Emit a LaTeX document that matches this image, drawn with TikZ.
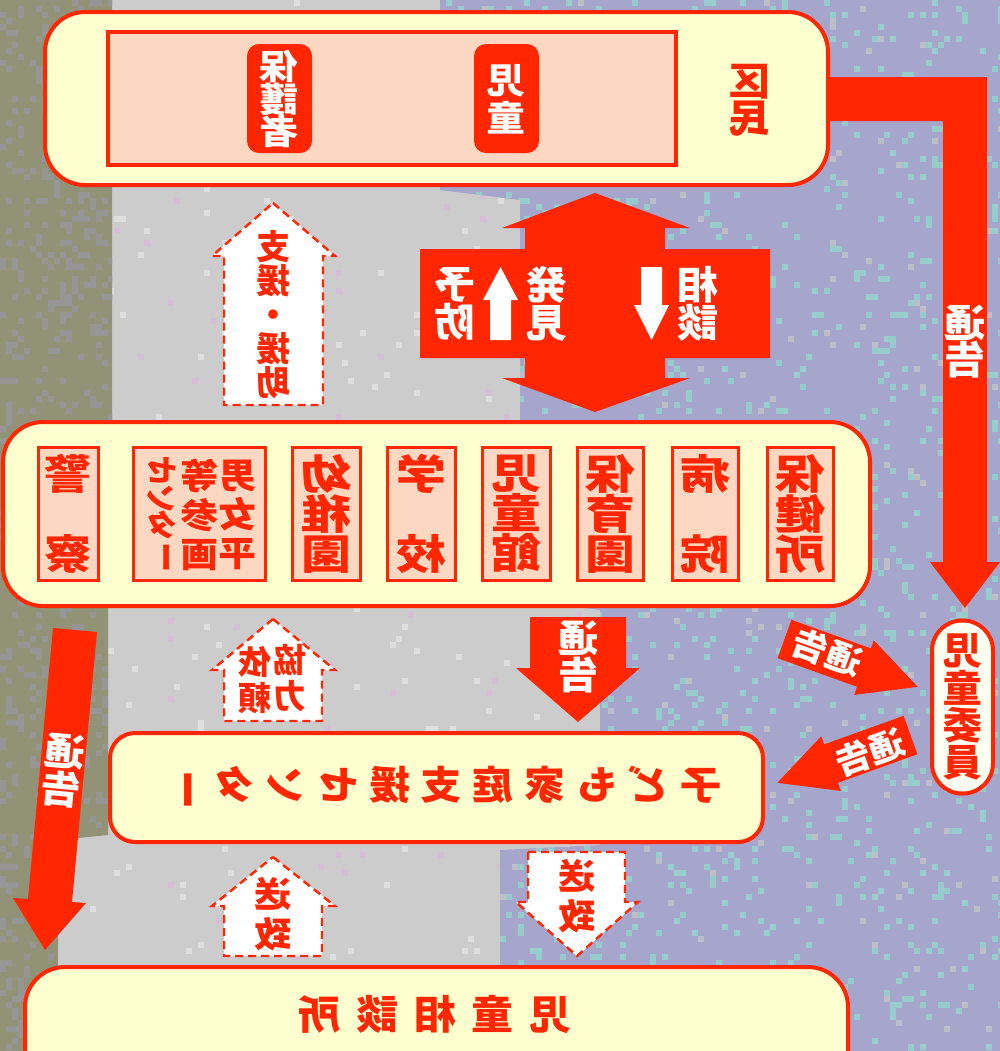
\documentclass[tikz,border=0pt]{standalone}
\usepackage{fontspec}
\usepackage{graphicx}
\newfontfamily\jp{Noto Sans CJK JP}
\definecolor{rd}{RGB}{255,38,0}
\definecolor{cream}{RGB}{255,255,208}
\definecolor{pinkbox}{RGB}{252,216,194}
\definecolor{lav}{RGB}{166,166,204}
\definecolor{lavdot}{RGB}{150,204,204}
\definecolor{lavdotb}{RGB}{190,190,200}
\definecolor{graybg}{RGB}{204,204,204}
\definecolor{graydot}{RGB}{222,222,222}
\definecolor{pinkdot}{RGB}{214,190,214}
\definecolor{olive}{RGB}{146,146,118}
\definecolor{olivedot}{RGB}{150,150,150}
\definecolor{iinfill}{RGB}{255,255,242}
% vertical (mirrored) text: [xscale]{font size}{pitch}{rows}
\newcommand\vt[4][1.12]{\scalebox{-#1}[1]{\fontsize{#2pt}{#3pt}\selectfont\parbox{1.4em}{\centering\lineskiplimit=-100pt\relax #4\par}}}
% horizontal (mirrored) text
\newcommand\hz[3][1.12]{\scalebox{-#1}[1]{\fontsize{#2pt}{#2pt}\selectfont #3}}
\newcommand\vbar{\makebox[1em]{\rotatebox[origin=c]{90}{ー}}}
\newcommand\gpa{\hspace{5.2pt}}
\newcommand\gpb{\hspace{7.4pt}}
\tikzset{
  bigbox/.style={draw=rd, line width=2pt, fill=cream, rounded corners=20pt, inner sep=0pt},
  panel/.style={draw=rd, line width=2pt, fill=pinkbox, inner sep=0pt},
  tagbox/.style={fill=rd, rounded corners=6pt, inner sep=0pt, minimum width=32.5pt, minimum height=54.5pt},
  orgbox/.style={draw=rd, line width=1.5pt, fill=pinkbox, inner sep=0pt, minimum height=66.5pt},
  redarrow/.style={fill=rd},
  dasharrow/.style={fill=white, draw=rd, line width=1.2pt, dash pattern=on 4pt off 2.5pt},
  rtext/.style={text=rd, font=\jp\bfseries, inner sep=0pt},
  wtext/.style={text=white, font=\jp\bfseries, inner sep=0pt},
}
\begin{document}
\begin{tikzpicture}[x=0.5pt,y=-0.5pt]
\useasboundingbox (0,0) rectangle (1000,1051);
% ---------- background ----------
\fill[graybg] (0,0) rectangle (1000,1051);
\pgfmathsetseed{12}
\begin{scope}
  \clip (0,0) rectangle (1000,1051);
  \foreach \i in {1,...,500}{\pgfmathsetmacro\rx{6*int(rnd*167)}\pgfmathsetmacro\ry{6*int(rnd*176)}\fill[graydot] (\rx,\ry) rectangle +(6,6);}
  \foreach \i in {1,...,250}{\pgfmathsetmacro\rx{6*int(rnd*167)}\pgfmathsetmacro\ry{6*int(rnd*176)}\fill[pinkdot] (\rx,\ry) rectangle +(6,6);}
\end{scope}
\fill[olive] (0,0) -- (112,0) -- (112,430) -- (108,620) -- (108,835) -- (58,840) -- (58,1051) -- (0,1051) -- cycle;
\begin{scope}
  \clip (0,0) -- (112,0) -- (112,430) -- (108,620) -- (108,835) -- (58,840) -- (58,1051) -- (0,1051) -- cycle;
  \foreach \i in {1,...,700}{\pgfmathsetmacro\rx{6*int(rnd*19)}\pgfmathsetmacro\ry{6*int(rnd*176)}\fill[olivedot] (\rx,\ry) rectangle +(6,6);}
\end{scope}
\fill[lav] (440,0) -- (1000,0) -- (1000,1051) -- (500,1051) -- (500,850) -- (600,845) -- (600,610) -- (520,600) -- (520,200) -- (440,190) -- cycle;
\begin{scope}
  \clip (440,0) -- (1000,0) -- (1000,1051) -- (500,1051) -- (500,850) -- (600,845) -- (600,610) -- (520,600) -- (520,200) -- (440,190) -- cycle;
  \foreach \i in {1,...,1300}{\pgfmathsetmacro\rx{440+6*int(rnd*94)}\pgfmathsetmacro\ry{6*int(rnd*176)}\fill[lavdot] (\rx,\ry) rectangle +(6,6);}
  \foreach \i in {1,...,300}{\pgfmathsetmacro\rx{440+6*int(rnd*94)}\pgfmathsetmacro\ry{6*int(rnd*176)}\fill[lavdotb] (\rx,\ry) rectangle +(6,6);}
\end{scope}

% ---------- red block arrows ----------
% 区民 -> 児童委員 (通告)
\fill[redarrow] (826,77) -- (987,77) -- (987,562) -- (1000,562) -- (965,608) -- (930,562) -- (943,562) -- (943,121) -- (826,121) -- cycle;
\node[wtext] (t-tsuukoku1) at (965,342) {\vt[1.06]{19.4}{18.5}{通\\告}};

% double arrow (相談 / 発見・予防)
\fill[redarrow] (595,193) -- (690,228) -- (665,228) -- (665,249) -- (770,249) -- (770,358) -- (665,358) -- (665,378) -- (690,378) -- (595,412) -- (502,378) -- (525,378) -- (525,358) -- (420,358) -- (420,249) -- (525,249) -- (525,228) -- (502,228) -- cycle;
\fill[white] (500.5,267) -- (518,300) -- (511,300) -- (511,340) -- (490,340) -- (490,300) -- (483,300) -- cycle;
\fill[white] (651.5,340) -- (669,305) -- (662,305) -- (662,267) -- (641,267) -- (641,305) -- (634,305) -- cycle;
\node[wtext] (t-yobou) at (455,304) {\vt[1.06]{19.4}{19}{予\\防}};
\node[wtext] (t-hakken) at (547,304) {\vt[1.06]{19.4}{19}{発\\見}};
\node[wtext] (t-soudan) at (698,304) {\vt[1.06]{19.4}{19}{相\\談}};

% 支援・援助 (dashed up)
\draw[dasharrow] (273,203) -- (335,256) -- (323,256) -- (323,405) -- (224,405) -- (224,256) -- (212,256) -- cycle;
\node[rtext] (t-shien) at (273,315) {\vt[1.0]{17}{17}{支\\援\\・\\援\\助}};

% 通告 (middle, down)
\fill[redarrow] (530,617) -- (626,617) -- (626,668) -- (640,668) -- (578,722) -- (516,668) -- (530,668) -- cycle;
\node[wtext] (t-tsuukoku2) at (578,657) {\vt[1.06]{19}{18.5}{通\\告}};

% 協力依頼 (dashed up)
\draw[dasharrow] (273,619) -- (335,670) -- (322,670) -- (322,721) -- (224,721) -- (224,670) -- (212,670) -- cycle;
\node[rtext] (t-kyouryoku) at (290,678) {\vt[1.0]{16.5}{18}{協\\力}};
\node[rtext] (t-irai) at (255,680) {\vt[1.0]{16.5}{18}{依\\頼}};

% left long 通告
\fill[redarrow] (53,628) -- (97,632) -- (72,902) -- (86,903) -- (45,950) -- (13,898) -- (28,899) -- cycle;
\node[wtext, rotate=-5.4] (t-tsuukoku3) at (63,771) {\vt[1.06]{19}{19}{通\\告}};

% 通告 -> 児童委員
\fill[redarrow] (791.4,619.8) -- (870.9,648.4) -- (873.8,640.3) -- (917.7,686.8) -- (854.2,694.9) -- (857.1,686.8) -- (777.6,658.2) -- cycle;
\node[wtext, rotate=-19.8] (t-tsuukoku4) at (827,652) {\hz[1.05]{17}{通告}};
% 児童委員 -> 子ども家庭支援センター
\fill[redarrow] (903.6,715.8) -- (824.1,744.4) -- (821.2,736.3) -- (777.3,782.8) -- (840.8,790.9) -- (837.9,782.8) -- (917.4,754.2) -- cycle;
\node[wtext, rotate=19.8] (t-tsuukoku5) at (870,752) {\hz[1.05]{17}{通告}};

% 送致 arrows (dashed)
\draw[dasharrow] (528,852) -- (625,852) -- (625,902) -- (638,902) -- (577,956) -- (516,902) -- (528,902) -- cycle;
\node[rtext] (t-souchi1) at (577,896) {\vt[1.05]{17.6}{20}{送\\致}};
\draw[dasharrow] (273,857) -- (335,906) -- (322,906) -- (322,956) -- (224,956) -- (224,906) -- (212,906) -- cycle;
\node[rtext] (t-souchi2) at (273,914) {\vt[1.05]{17.6}{20}{送\\致}};

% ---------- boxes ----------
% 区民
\node[bigbox, minimum width=391.5pt, minimum height=86.5pt] (kumin) at (436.5,98.5) {};
\node[panel, minimum width=284pt, minimum height=66.5pt] (kpanel) at (392,98.5) {};
\node[tagbox] (hogosha) at (279.5,98.5) {};
\node[wtext] (t-hogosha) at (279.5,99) {\vt[1.13]{17.2}{16.25}{保\\護\\者}};
\node[tagbox] (jido) at (506.5,98.5) {};
\node[wtext] (t-jido) at (506.5,99) {\vt[1.1]{17.6}{19}{児\\童}};
\node[rtext] (t-kumin) at (750,100) {\vt[1.06]{19.4}{18.5}{区\\民}};

% 関係機関
\node[bigbox, minimum width=433.5pt, minimum height=92pt] (kikan) at (436.5,514) {};
\node[orgbox, minimum width=30pt] (o1) at (68,513.5) {};
\node[rtext] at (o1.center) {\vt[1.15]{20.5}{40}{警\\察}};
\node[orgbox, minimum width=66pt] (o2) at (199,513.5) {};
\node[rtext] (t-o2a) at (238,515) {\vt[1.07]{17.6}{19.5}{男\\女\\平}};
\node[rtext] (t-o2b) at (200,515) {\vt[1.07]{17.6}{19.5}{等\\参\\画}};
\node[rtext] (t-o2c) at (162,515) {\vt[1.05]{15}{13.8}{セ\\ン\\タ\\\vbar}};
\node[orgbox, minimum width=34pt] (o3) at (326,513.5) {};
\node[rtext] at (o3.center) {\vt[1.22]{20.5}{20}{幼\\稚\\園}};
\node[orgbox, minimum width=34pt] (o4) at (421,513.5) {};
\node[rtext] at (o4.center) {\vt[1.22]{20.5}{40}{学\\校}};
\node[orgbox, minimum width=34pt] (o5) at (516,513.5) {};
\node[rtext] at (o5.center) {\vt[1.22]{20.5}{20}{児\\童\\館}};
\node[orgbox, minimum width=33pt] (o6) at (610,513.5) {};
\node[rtext] at (o6.center) {\vt[1.22]{20.5}{20}{保\\育\\園}};
\node[orgbox, minimum width=33pt] (o7) at (705,513.5) {};
\node[rtext] at (o7.center) {\vt[1.22]{20.5}{40}{病\\院}};
\node[orgbox, minimum width=33pt] (o8) at (800,513.5) {};
\node[rtext] at (o8.center) {\vt[1.22]{20.5}{20}{保\\健\\所}};

% 子ども家庭支援センター
\node[bigbox, rounded corners=12.5pt, minimum width=326.5pt, minimum height=54.5pt] (kodomo) at (436.5,787.5) {};
\node[rtext] (t-kodomo) at (441.5,788) {\hz[1.05]{19.5}{子\gpa ど\gpa も\gpa 家\gpa 庭\gpa 支\gpa 援\gpa セ\gpa ン\gpa タ\gpa\vbar}};

% 児童委員
\node[draw=rd, line width=2pt, fill=iinfill, rounded corners=15pt, inner sep=0pt, minimum width=30.5pt, minimum height=86.5pt] (iin) at (962.5,707) {};
\node[rtext] (t-iin) at (962.5,707) {\vt[1.05]{18.8}{18.7}{児\\童\\委\\員}};

% 児童相談所
\node[bigbox, minimum width=411.5pt, minimum height=66.5pt] (soudanjo) at (436.5,1033.5) {};
\node[rtext] (t-soudanjo) at (435,1014) {\hz[1.05]{20}{児\gpb 童\gpb 相\gpb 談\gpb 所}};
\end{tikzpicture}
\end{document}
